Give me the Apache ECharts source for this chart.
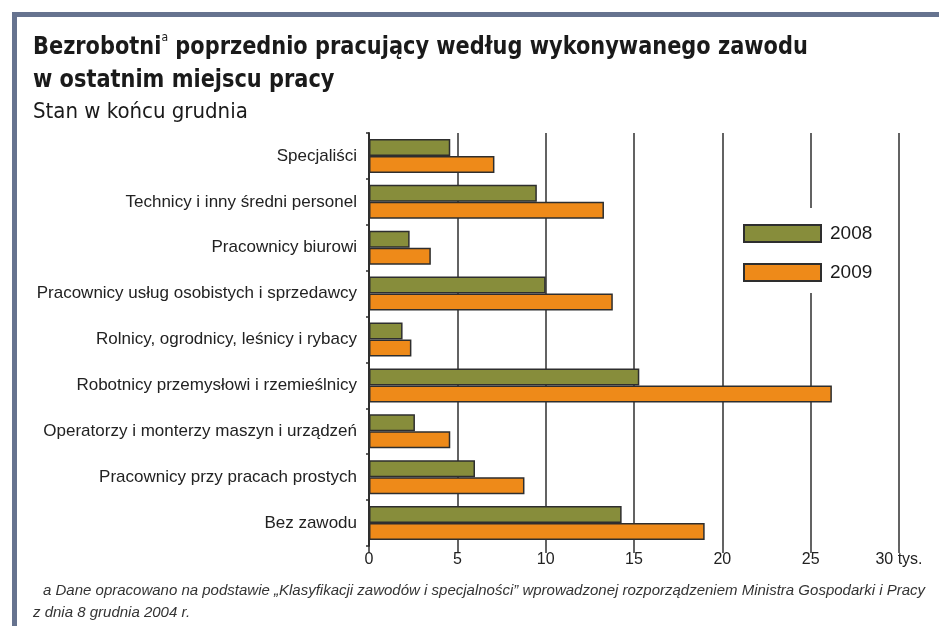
<!DOCTYPE html>
<html>
<head>
<meta charset="utf-8">
<script src="https://cdn.jsdelivr.net/npm/echarts@6/dist/echarts.min.js"></script>
<style>
  html, body { margin: 0; padding: 0; background: #fff; }
  #chart { width: 939px; height: 626px; }
</style>
</head>
<body>
<div id="chart"></div>
<script>
const categories = [
  'Specjaliści',
  'Technicy i inny średni personel',
  'Pracownicy biurowi',
  'Pracownicy usług osobistych i sprzedawcy',
  'Rolnicy, ogrodnicy, leśnicy i rybacy',
  'Robotnicy przemysłowi i rzemieślnicy',
  'Operatorzy i monterzy maszyn i urządzeń',
  'Pracownicy przy pracach prostych',
  'Bez zawodu'
]
const years = ['2008', '2009']
const values2008 = [4.6, 9.5, 2.3, 10.0, 1.9, 15.3, 2.6, 6.0, 14.3]
const values2009 = [7.1, 13.3, 3.5, 13.8, 2.4, 26.2, 4.6, 8.8, 19.0]
const xTicks = [0, 5, 10, 15, 20, 25, 30]

const narrow = '"DejaVu Sans Condensed", "Liberation Sans", sans-serif'
const plain = '"Liberation Sans", Arial, sans-serif'

const chart = echarts.init(document.getElementById('chart'))

const barStyle = (color) => ({
  color: color,
  borderColor: '#2e2e2e',
  borderWidth: 1.5
})

const option = {
  backgroundColor: '#fff',
  animation: false,
  legend: {
    data: years,
    orient: 'vertical',
    left: 724,
    top: 208,
    width: 171,
    padding: [16, 22, 11, 19],
    backgroundColor: '#fff',
    itemWidth: 77,
    itemHeight: 17,
    itemGap: 20,
    icon: 'rect',
    textStyle: { fontFamily: plain, fontSize: 19, color: '#1a1a1a', padding: [0, 0, 0, 4] }
  },
  grid: {
    left: 369,
    right: 40,
    top: 133,
    bottom: 80,
    containLabel: false
  },
  xAxis: {
    type: 'value',
    min: 0,
    max: 30,
    interval: 5,
    axisLine: { show: false },
    axisTick: { show: true, length: 7, lineStyle: { color: '#333', width: 1.5 } },
    axisLabel: {
      margin: 6,
      fontFamily: plain,
      fontSize: 16,
      color: '#222',
      formatter: (v) => (v === xTicks[xTicks.length - 1] ? v + ' tys.' : String(v))
    },
    splitLine: { show: true, lineStyle: { color: '#3c3c3c', width: 1.6 } }
  },
  yAxis: {
    type: 'category',
    data: categories,
    inverse: true,
    axisLine: { show: true, lineStyle: { color: '#2e2e2e', width: 2 } },
    axisTick: { show: true, length: 3, lineStyle: { color: '#2e2e2e', width: 1.5 } },
    axisLabel: { margin: 12, fontFamily: plain, fontSize: 17, color: '#222' }
  },
  series: [
    {
      name: years[0],
      type: 'bar',
      data: values2008,
      barWidth: 17,
      barGap: '0%',
      itemStyle: barStyle('#878d3b')
    },
    {
      name: years[1],
      type: 'bar',
      data: values2009,
      barWidth: 17,
      barGap: '0%',
      itemStyle: barStyle('#ee8a19')
    }
  ],
  graphic: [
    { type: 'rect', left: 12, top: 12, shape: { width: 927, height: 5 }, style: { fill: '#66738f' } },
    { type: 'rect', left: 12, top: 12, shape: { width: 5, height: 614 }, style: { fill: '#66738f' } },
    {
      type: 'text',
      x: 33,
      y: 31,
      scaleX: 0.93,
      style: {
        text: '{b|Bezrobotni}{s|a}{b| poprzednio pracujący według wykonywanego zawodu}\n{b|w ostatnim miejscu pracy}',
        rich: {
          b: { fontFamily: narrow, fontWeight: 'bold', fontSize: 25, fill: '#1a1a1a', lineHeight: 33 },
          s: { fontFamily: narrow, fontSize: 13, fill: '#1a1a1a', verticalAlign: 'top', padding: [0, 0, 12, 0], lineHeight: 33 }
        }
      }
    },
    {
      type: 'text',
      x: 33,
      y: 101,
      style: { text: 'Stan w końcu grudnia', fontFamily: narrow, fontSize: 22, fill: '#1a1a1a' }
    },
    {
      type: 'text',
      left: 43,
      top: 583,
      style: {
        text: 'a Dane opracowano na podstawie „Klasyfikacji zawodów i specjalności” wprowadzonej rozporządzeniem Ministra Gospodarki i Pracy',
        fontFamily: plain,
        fontStyle: 'italic',
        fontSize: 15,
        fill: '#333'
      }
    },
    {
      type: 'text',
      left: 33,
      top: 605,
      style: {
        text: 'z dnia 8 grudnia 2004 r.',
        fontFamily: plain,
        fontStyle: 'italic',
        fontSize: 15,
        fill: '#333'
      }
    }
  ]
}

chart.setOption(option)
</script>
</body>
</html>
